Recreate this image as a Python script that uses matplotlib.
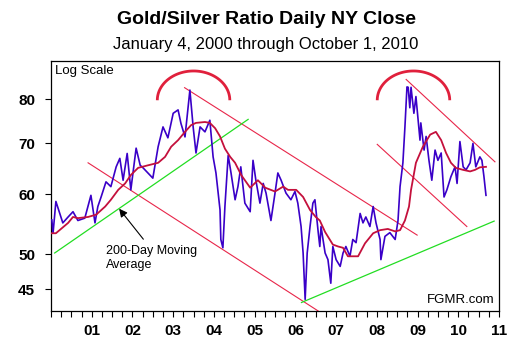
import matplotlib.pyplot as plt
import numpy as np
from matplotlib.ticker import NullLocator, FixedLocator, FixedFormatter

plt.rcParams['font.family'] = ['Liberation Sans', 'DejaVu Sans']

# 金银比 (读图近似值, 十进制年份)
ratio_years = [2000.02, 2000.05, 2000.12, 2000.29, 2000.42, 2000.54, 2000.66, 2000.83, 2000.98,
               2001.08, 2001.15, 2001.23, 2001.35, 2001.47, 2001.60, 2001.69, 2001.77,
               2001.87, 2001.96, 2002.09, 2002.19, 2002.26, 2002.50, 2002.63, 2002.75,
               2002.87, 2003.00, 2003.12, 2003.19, 2003.29, 2003.41, 2003.49, 2003.56,
               2003.66, 2003.78, 2003.90, 2003.98, 2004.05, 2004.15, 2004.17, 2004.22,
               2004.27, 2004.35, 2004.42, 2004.52, 2004.59, 2004.66, 2004.76, 2004.89,
               2004.96, 2005.03, 2005.13, 2005.21, 2005.28, 2005.40, 2005.50, 2005.57,
               2005.65, 2005.77, 2005.89, 2005.99, 2006.06, 2006.14, 2006.19, 2006.24,
               2006.29, 2006.36, 2006.43, 2006.48, 2006.56, 2006.60, 2006.63, 2006.73,
               2006.80, 2006.87, 2006.92, 2007.00, 2007.10, 2007.17, 2007.24, 2007.34,
               2007.41, 2007.49, 2007.59, 2007.66, 2007.73, 2007.83, 2007.91, 2007.98,
               2008.08, 2008.10, 2008.20, 2008.32, 2008.45, 2008.52, 2008.57, 2008.64,
               2008.69, 2008.74, 2008.77, 2008.81, 2008.84, 2008.91, 2008.96, 2009.06,
               2009.08, 2009.16, 2009.21, 2009.28, 2009.35, 2009.43, 2009.50, 2009.58,
               2009.65, 2009.72, 2009.82, 2009.92, 2009.97, 2010.04, 2010.12, 2010.19,
               2010.29, 2010.36, 2010.43, 2010.53, 2010.58, 2010.63, 2010.68]
ratio_values = [55.5, 53.3, 58.7, 55.0, 56.0, 56.9, 55.4, 55.8, 59.8,
                55.0, 57.8, 59.5, 62.3, 61.4, 65.2, 66.9, 62.6,
                67.9, 60.8, 69.0, 65.5, 65.0, 63.0, 69.3, 73.6,
                71.2, 76.7, 77.5, 74.4, 71.4, 82.3, 73.6, 68.0,
                73.6, 72.5, 75.1, 67.2, 64.0, 57.2, 52.3, 51.0,
                57.8, 67.5, 64.0, 59.0, 61.4, 65.2, 58.4, 56.9,
                66.5, 62.6, 58.4, 62.0, 60.2, 55.4, 60.2, 64.0,
                62.6, 60.2, 59.0, 60.5, 58.4, 54.4, 50.2, 43.6,
                50.2, 54.4, 58.4, 59.0, 53.5, 51.2, 54.4, 50.2,
                49.2, 45.8, 51.2, 49.2, 48.2, 50.2, 51.2, 49.7,
                52.3, 51.8, 56.6, 55.0, 56.0, 54.4, 57.8, 55.0,
                52.3, 49.2, 52.8, 53.4, 52.3, 55.4, 61.4, 66.0,
                73.6, 83.1, 83.0, 78.0, 83.0, 76.7, 80.7, 70.7,
                74.5, 68.6, 71.5, 66.5, 62.6, 68.6, 66.5, 68.0,
                59.5, 60.8, 63.3, 65.2, 62.0, 70.4, 65.2, 64.6,
                66.0, 70.0, 65.2, 67.2, 66.5, 63.3, 59.8]

# 200日移动平均 (读图近似值)
ma_years = [2000.02, 2000.12, 2000.42, 2000.54, 2000.66, 2000.91, 2001.11, 2001.33,
            2001.47, 2001.65, 2001.82, 2001.96, 2002.14, 2002.38, 2002.63, 2002.80,
            2002.95, 2003.12, 2003.29, 2003.44, 2003.56, 2003.78, 2003.90, 2004.03,
            2004.15, 2004.27, 2004.40, 2004.52, 2004.67, 2004.89, 2005.08, 2005.26,
            2005.50, 2005.70, 2005.82, 2006.02, 2006.19, 2006.36, 2006.50, 2006.60,
            2006.73, 2006.92, 2007.05, 2007.17, 2007.29, 2007.54, 2007.71, 2007.91,
            2008.08, 2008.27, 2008.45, 2008.57, 2008.69, 2008.79, 2008.84, 2008.96,
            2009.13, 2009.31, 2009.45, 2009.58, 2009.70, 2009.82, 2009.94, 2010.12,
            2010.29, 2010.41, 2010.53, 2010.68]
ma_values = [53.3, 53.3, 55.0, 56.0, 55.8, 56.0, 56.4, 57.8,
             59.0, 60.8, 62.0, 63.6, 65.0, 65.5, 66.0, 67.2,
             69.3, 70.7, 72.5, 74.0, 74.5, 74.7, 74.5, 73.3,
             71.5, 68.9, 67.2, 66.0, 63.6, 61.2, 62.6, 61.2,
             60.5, 61.4, 60.8, 60.8, 59.5, 57.2, 56.0, 55.4,
             53.5, 51.5, 51.2, 51.0, 49.7, 49.7, 51.7, 53.3,
             53.8, 54.0, 53.6, 53.8, 55.4, 57.8, 60.8, 66.0,
             69.3, 71.9, 72.5, 70.7, 68.0, 66.0, 65.0, 64.6,
             64.3, 64.6, 65.1, 65.2]

# 趋势线: (起始年, 起始值, 结束年, 结束值)
red_lines = [(2000.91, 66.0, 2006.56, 42.1),
             (2003.28, 82.9, 2008.99, 53.0),
             (2008.01, 69.8, 2010.21, 54.4),
             (2008.72, 85.0, 2010.90, 66.2)]
green_lines = [(2000.09, 50.2, 2004.84, 75.3),
               (2006.15, 43.2, 2010.88, 55.3)]

# 顶部圆弧: (中心年, 底部值)
arc_centers = [(2003.50, 79.8), (2008.90, 79.8)]

year_ticks = list(range(2000, 2012))
year_labels = [''] + ['%02d' % (y % 100) for y in range(2001, 2012)]
value_ticks = [45, 50, 60, 70, 80]

fig = plt.figure(figsize=(5.28, 3.51), dpi=100)
ax = fig.add_axes([0.0966, 0.114, 0.8485, 0.7123])
ax.set_yscale('log')

# 趋势线
for x0, y0, x1, y1 in red_lines:
    ax.plot([x0, x1], [y0, y1], color='#e8264a', linewidth=0.8, zorder=2)
for x0, y0, x1, y1 in green_lines:
    ax.plot([x0, x1], [y0, y1], color='#22dd22', linewidth=0.9, zorder=2)

# 金银比和均线
ax.plot(ratio_years, ratio_values, color='#3a00c8', linewidth=1.2, zorder=3)
ax.plot(ma_years, ma_values, color='#c4103c', linewidth=1.3, zorder=4)

# 圆弧
theta = np.linspace(0, np.pi, 80)
for cx, cy in arc_centers:
    ax.plot(cx + 0.89 * np.cos(theta), cy * np.exp(0.0888 * np.sin(theta)),
            color='#e0203c', linewidth=2.0, solid_capstyle='butt', zorder=5)

# 标注
ax.annotate('', xy=(2001.63, 57.8), xytext=(2002.31, 52.0),
            arrowprops=dict(arrowstyle='-|>', color='black', lw=0.8, mutation_scale=12))
ax.text(2001.35, 51.4, '200-Day Moving\nAverage', fontsize=9, va='top', ha='left',
        linespacing=1.25)
ax.text(0.008, 0.985, 'Log Scale', transform=ax.transAxes, fontsize=9.5, va='top')
ax.text(0.99, 0.02, 'FGMR.com', transform=ax.transAxes, fontsize=9.5,
        ha='right', va='bottom')

# 坐标轴
ax.set_xlim(2000, 2011)
ax.set_ylim(42.1, 89.9)
ax.xaxis.set_major_locator(FixedLocator(year_ticks))
ax.xaxis.set_major_formatter(FixedFormatter(year_labels))
ax.xaxis.set_minor_locator(FixedLocator(np.arange(2000, 2011.01, 0.25)))
ax.yaxis.set_major_locator(FixedLocator(value_ticks))
ax.yaxis.set_major_formatter(FixedFormatter([str(v) for v in value_ticks]))
ax.yaxis.set_minor_locator(NullLocator())
ax.tick_params(axis='both', which='both', direction='out', length=4.5, width=0.8,
               labelsize=11)
ax.tick_params(axis='y', pad=7)
ax.tick_params(axis='x', pad=5)
for lab in ax.get_xticklabels() + ax.get_yticklabels():
    lab.set_fontweight('bold')
for s in ax.spines.values():
    s.set_linewidth(0.9)

fig.text(0.504, 1 - 20 / 351, 'Gold/Silver Ratio Daily NY Close', fontsize=14,
         fontweight='bold', ha='center', va='center')
fig.text(0.503, 1 - 44 / 351, 'January 4, 2000 through October 1, 2010', fontsize=12,
         ha='center', va='center')

fig.savefig('out.png', dpi=100)
